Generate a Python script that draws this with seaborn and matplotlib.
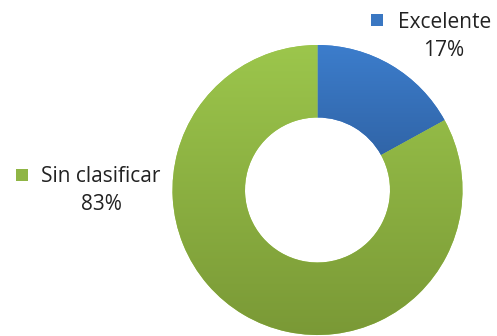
import numpy as np
import matplotlib
matplotlib.use("Agg")
import matplotlib.pyplot as plt
from matplotlib.colors import LinearSegmentedColormap
import seaborn as sns

# Data
categories = ["Excelente", "Sin clasificar"]
shares = [17, 83]
top_colors = ["#3c7dcc", "#9cc64c"]
bottom_colors = ["#2d5d9c", "#7a9936"]
key_colors = ["#3a77c2", "#8fb545"]

sns.set_theme(style="white")
plt.rcParams["font.family"] = ["Open Sans", "DejaVu Sans"]

W, H = 497, 336
fig = plt.figure(figsize=(W / 100, H / 100), dpi=100)
ax = fig.add_axes([0, 0, 1, 1])


def py(y):
    """Convert a top-down pixel row into the axes' bottom-up coordinate."""
    return H - y


cx, cy, R = 317.5, py(190.0), 145.0
wedges, _ = ax.pie(shares, startangle=90, counterclock=False,
                   center=(cx, cy), radius=R,
                   colors=top_colors,
                   wedgeprops=dict(width=R * 0.5, linewidth=0))

# Vertical shading inside each ring segment (light at top, darker below)
grad = np.linspace(1, 0, 256).reshape(-1, 1)
for w, c0, c1 in zip(wedges, top_colors, bottom_colors):
    cmap = LinearSegmentedColormap.from_list("shade", [c1, c0])
    verts = w.get_path().vertices
    x0, x1 = verts[:, 0].min(), verts[:, 0].max()
    y0, y1 = verts[:, 1].min(), verts[:, 1].max()
    im = ax.imshow(grad, cmap=cmap, aspect="auto", origin="upper",
                   extent=(x0, x1, y0, y1), zorder=2)
    im.set_clip_path(w)

ax.set_xlim(0, W)
ax.set_ylim(0, H)
ax.set_aspect("equal")
ax.axis("off")

# Category labels with colour keys
fs = 15
label_spec = [
    (categories[0], shares[0], 377, 20, 398, 22, 444, 51, key_colors[0]),
    (categories[1], shares[1], 22, 175, 41, 177, 101.5, 205, key_colors[1]),
]
for name, val, kx, ky, nx, ny, tx, ty, col in label_spec:
    ax.scatter([kx], [py(ky)], marker="s", s=78, color=col, zorder=3, linewidths=0)
    ax.text(nx, py(ny), name, fontsize=fs, color="#222222", va="center", ha="left")
    ax.text(tx, py(ty), f"{val}%", fontsize=fs, color="#222222", va="center", ha="center")

fig.savefig("out.png", dpi=100)
